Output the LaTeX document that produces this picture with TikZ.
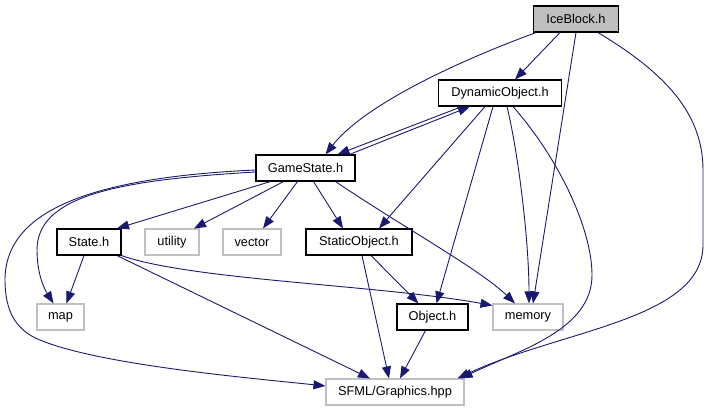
\documentclass[tikz,border=0pt]{standalone}
\usepackage{fontspec}
\setmainfont{Liberation Sans}
\usetikzlibrary{arrows.meta}
\definecolor{EdgeClr}{HTML}{191970}
\definecolor{ExtClr}{HTML}{BFBFBF}

\begin{document}
\begin{tikzpicture}[x=1pt,y=-1pt,
  file/.style={draw=black,line width=1.1pt,fill=white,minimum height=26pt,
    inner sep=0pt,font=\fontsize{12.8}{15}\selectfont},
  ext/.style={file,draw=ExtClr},
  dep/.style={draw=EdgeClr,line width=0.9pt,
    -{Triangle[length=12pt,width=9pt,fill=EdgeClr]}}]
\useasboundingbox (0,0) rectangle (709,411);

% Files of the project
\node[file,fill=ExtClr,minimum width=85pt] (ice) at (576,19) {IceBlock.h};
\node[file,minimum width=123pt] (dyn) at (500,93) {DynamicObject.h};
\node[file,minimum width=99pt] (gs) at (305.5,168) {GameState.h};
\node[file,minimum width=64pt] (st) at (89,242) {State.h};
\node[file,minimum width=106pt] (sobj) at (359,242) {StaticObject.h};
\node[file,minimum width=71pt] (obj) at (432.5,317) {Object.h};

% System headers
\node[ext,minimum width=54pt] (util) at (172,242) {utility};
\node[ext,minimum width=58pt] (vec) at (252,242) {vector};
\node[ext,minimum width=47pt] (map) at (60.5,317) {map};
\node[ext,minimum width=70pt] (mem) at (528,317) {memory};
\node[ext,minimum width=138pt] (sfml) at (395,392) {SFML/Graphics.hpp};

% IceBlock.h
\draw[dep] ([xshift=-16]ice.south) -- ([xshift=15]dyn.north);
\draw[dep] ([xshift=-40]ice.south) .. controls +(-95,35) and +(35,-45) .. ([xshift=20]gs.north);
\draw[dep] (ice.south) -- ([xshift=5]mem.north);
\draw[dep] ([xshift=22]ice.south) .. controls (660,70) and (703,110) .. (703,170)
  -- (703,245) .. controls (703,320) and (560,330) .. ([xshift=-7]sfml.north east);

% DynamicObject.h
\draw[dep] ([xshift=-38]dyn.south) -- ([xshift=32]gs.north);
\draw[dep] ([xshift=-15]dyn.south) -- ([xshift=20]sobj.north);
\draw[dep] ([xshift=-7]dyn.south) -- ([xshift=4]obj.north);
\draw[dep] ([xshift=7]dyn.south) .. controls +(12,50) and +(0,-60) .. ([xshift=1]mem.north);
\draw[dep] ([xshift=13]dyn.south) .. controls (560,160) and (592,230) .. (592,275)
  .. controls (592,330) and (520,350) .. ([xshift=-4]sfml.north east);

% GameState.h
\draw[dep] ([xshift=44]gs.north) -- ([xshift=-30]dyn.south);
\draw[dep] ([xshift=-35]gs.south) -- ([xshift=28]st.north);
\draw[dep] ([xshift=-22]gs.south) -- ([xshift=22]util.north);
\draw[dep] ([xshift=-8]gs.south) -- ([xshift=11]vec.north);
\draw[dep] ([xshift=8]gs.south) -- ([xshift=-16]sobj.north);
\draw[dep] ([xshift=30]gs.south) .. controls +(65,44) and +(-35,-34) .. ([xshift=-13]mem.north);
\draw[dep] ([yshift=-4]gs.west) .. controls (120,180) and (37,195) .. (37,250)
  .. controls (37,275) and (45,290) .. ([xshift=-7]map.north);
\draw[dep] ([yshift=-2]gs.west) .. controls (80,178) and (5,215) .. (5,280)
  .. controls (5,310) and (15,330) .. (40,340) .. controls (100,365) and (250,378) .. ([yshift=6]sfml.west);

% State.h
\draw[dep] ([xshift=-5]st.south) -- ([xshift=6]map.north);
\draw[dep] (st.south east) .. controls (190,280) and (380,285) .. ([yshift=-2]mem.north west);
\draw[dep] ([xshift=28]st.south) -- ([xshift=-25]sfml.north);

% StaticObject.h and Object.h
\draw[dep] ([xshift=12]sobj.south) -- ([xshift=-14]obj.north);
\draw[dep] ([xshift=3]sobj.south) -- ([xshift=-6]sfml.north);
\draw[dep] ([xshift=-7]obj.south) -- ([xshift=5]sfml.north);
\end{tikzpicture}
\end{document}
